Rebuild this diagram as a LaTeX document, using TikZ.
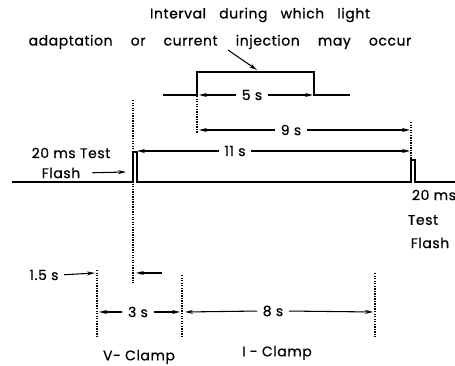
\documentclass[tikz,border=0pt]{standalone}
\usepackage{fontspec}
\setmainfont{Poppins}[LetterSpace=4, FakeBold=0.6]
\usetikzlibrary{arrows.meta}

\begin{document}
\begin{tikzpicture}[x=0.75pt, y=-0.75pt, >={Stealth[length=6pt,width=3pt]},
    every node/.style={font=\fontsize{10.5}{12}\selectfont, inner sep=1pt},
    trace/.style={line width=1pt},
    dotline/.style={line width=1.3pt, dash pattern=on 1pt off 0.9pt},
    dimline/.style={line width=0.8pt, ->}]
    \useasboundingbox (0,0) rectangle (455,366);

    % Heading and pointer
    \node (head1) at (260,15) {\makebox[165pt][s]{Interval during which light}};
    \node (head2) at (220,42) {\makebox[287pt][s]{adaptation or current injection may occur}};
    \coordinate (ptrstart) at (228,50);
    \coordinate (ptrend) at (257,70);
    \draw[dimline] (ptrstart) -- (ptrend);

    % Bracket for the interval
    \coordinate (brl) at (197,95);
    \coordinate (brr) at (314,95);
    \draw[trace] (163,95) -- (brl) |- (255,72) -| (brr) -- (350,95);

    % Trace with two test flashes
    \coordinate (flA) at (133,182);
    \coordinate (flB) at (411,182);
    \draw[trace] (12,182) -- (flA) -- ++(0,-30) -- ++(4,0) |- (flB) -- ++(0,-22) -- ++(4,0) |- (455,182);

    % Dotted time marks
    \draw[dotline] (97,270) -- (97,338);
    \draw[dotline] (133,100) -- (133,283);
    \draw[dotline] (182,275) -- (182,338);
    \draw[dotline] (375,273) -- (375,337);
    \draw[dotline] (197,96) -- (197,133);
    \draw[dotline] (411,122) -- (411,160);

    % Flash labels
    \node (testL) at (71,153) {20 ms Test};
    \node (flashL) at (61,173) {Flash};
    \draw[dimline, shorten <=8pt] (flashL.east) -- (126,172);
    \node (testR1) at (434,195) {20 ms};
    \node (testR2) at (423,220) {Test};
    \node (testR3) at (430,243) {Flash};

    % Upper intervals
    \node (five) at (252,95) {5 s};
    \draw[dimline, shorten <=3pt] (five.west) -- (199,95);
    \draw[dimline, shorten <=3pt] (five.east) -- (313,95);
    \node (nine) at (291,130) {9 s};
    \draw[dimline, shorten <=3pt] (nine.west) -- (199,130);
    \draw[dimline, shorten <=3pt] (nine.east) -- (410,130);
    \node (eleven) at (235,151) {11 s};
    \draw[dimline, shorten <=3pt] (eleven.west) -- (137,151);
    \draw[dimline, shorten <=3pt] (eleven.east) -- (410,151);

    % Lower intervals
    \node (onefive) at (44,275) {1.5 s};
    \draw[dimline, shorten <=3pt] (onefive.east) -- (95,273);
    \coordinate (backstart) at (162,273);
    \draw[dimline] (backstart) -- (136,273);
    \node (three) at (138,312) {3 s};
    \draw[dimline, shorten <=3pt] (three.west) -- (99,312);
    \draw[dimline, shorten <=3pt] (three.east) -- (180,312);
    \node (eight) at (273,311) {8 s};
    \draw[dimline, shorten <=3pt] (eight.west) -- (185,312);
    \draw[dimline, shorten <=3pt] (eight.east) -- (373,312);

    % Clamp labels
    \node (vclamp) at (139,357) {V- Clamp};
    \node (iclamp) at (277,353) {I - Clamp};

\end{tikzpicture}
\end{document}
